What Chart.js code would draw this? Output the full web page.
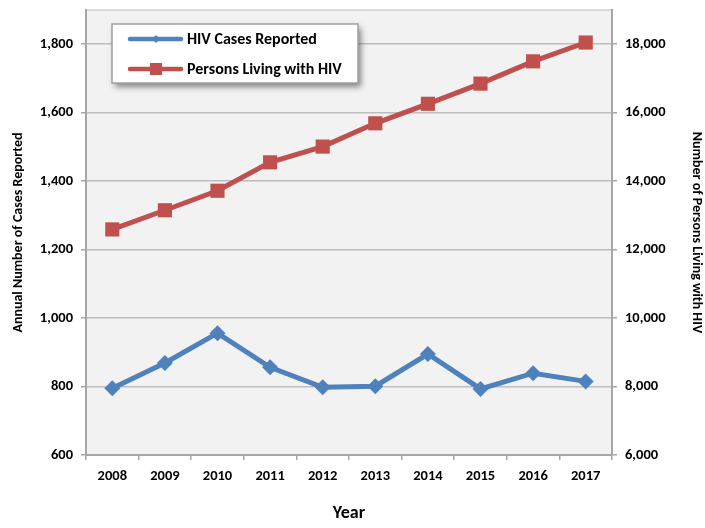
<!DOCTYPE html>
<html>
<head>
<meta charset="utf-8">
<script src="https://cdn.jsdelivr.net/npm/chart.js@4/dist/chart.umd.min.js"></script>
<style>
  html, body { margin: 0; padding: 0; background: #fff; }
  #wrap { width: 705px; height: 528px; }
</style>
</head>
<body>
<div id="wrap"><canvas id="hivChart"></canvas></div>
<script>
// Data
const years = ["2008", "2009", "2010", "2011", "2012", "2013", "2014", "2015", "2016", "2017"];
const casesReported = [795, 869, 956, 856, 798, 801, 895, 793, 839, 815];
const personsLiving = [12590, 13150, 13720, 14550, 15010, 15690, 16260, 16850, 17500, 18050];
const leftTicks = [600, 800, 1000, 1200, 1400, 1600, 1800];
const rightTicks = [6000, 8000, 10000, 12000, 14000, 16000, 18000];

const FONT = "Calibri, Carlito, Lato, 'Open Sans', sans-serif";
const BLUE = "#4f81bd";
const RED = "#c0504d";
const AXIS_GRAY = "#a6a6a6";

/**
 * Grey plot background and the light top border of the plot area.
 */
const plotFrame = {
  id: "plotFrame",
  beforeDraw(chart) {
    const { ctx, chartArea: a } = chart;
    ctx.save();
    ctx.fillStyle = "#f2f2f2";
    ctx.fillRect(a.left, a.top, a.width, a.height);
    ctx.strokeStyle = "#d0d0d0";
    ctx.lineWidth = 1.5;
    ctx.beginPath();
    ctx.moveTo(a.left, a.top);
    ctx.lineTo(a.right, a.top);
    ctx.stroke();
    ctx.restore();
  },
};

/**
 * Boxed legend with a drop shadow, drawn inside the plot area like the Excel original.
 */
const boxedLegend = {
  id: "boxedLegend",
  afterDraw(chart) {
    const { ctx } = chart;
    const box = { x: 112, y: 24, w: 246, h: 59 };
    ctx.save();
    ctx.shadowColor = "rgba(0,0,0,0.45)";
    ctx.shadowBlur = 6;
    ctx.shadowOffsetX = 3;
    ctx.shadowOffsetY = 4;
    ctx.fillStyle = "#ffffff";
    ctx.fillRect(box.x, box.y, box.w, box.h);
    ctx.restore();

    ctx.save();
    ctx.strokeStyle = "#a0a0a0";
    ctx.lineWidth = 1.5;
    ctx.strokeRect(box.x, box.y, box.w, box.h);

    const rows = [
      { ds: chart.data.datasets[0], y: 39, radius: 4 },
      { ds: chart.data.datasets[1], y: 69, radius: 8.5 },
    ];
    rows.forEach(({ ds, y, radius }) => {
      ctx.strokeStyle = ds.borderColor;
      ctx.lineWidth = 4.5;
      ctx.lineCap = "round";
      ctx.beginPath();
      ctx.moveTo(130, y);
      ctx.lineTo(181, y);
      ctx.stroke();
      ctx.fillStyle = ds.pointBackgroundColor;
      ctx.strokeStyle = ds.pointBorderColor;
      Chart.helpers.drawPoint(ctx, { pointStyle: ds.pointStyle, radius: radius, rotation: 0, borderWidth: 0 }, 156, y);
      ctx.fillStyle = "#000";
      ctx.font = "bold 16px " + FONT;
      ctx.textBaseline = "middle";
      ctx.fillText(ds.label, 187, y + 1);
    });
    ctx.restore();
  },
};

const fmt = (v) => Number(v).toLocaleString("en-US");

// keep the plot area where the reference has it: no extra room for edge labels
const noEdgePadding = (s) => {
  s.paddingTop = 0;
  s.paddingBottom = 0;
  s.paddingLeft = 0;
  s.paddingRight = 0;
};

const tickFont = { family: FONT, size: 14.5, weight: "bold" };
const axisTitleFont = { family: FONT, size: 14, weight: "bold" };

new Chart(document.getElementById("hivChart"), {
  type: "line",
  data: {
    labels: years,
    datasets: [
      {
        label: "HIV Cases Reported",
        data: casesReported,
        yAxisID: "y",
        borderColor: BLUE,
        borderWidth: 5,
        pointStyle: "rectRot",
        pointRadius: 8,
        pointHoverRadius: 8,
        pointBackgroundColor: BLUE,
        pointBorderColor: BLUE,
        pointBorderWidth: 0,
        tension: 0,
      },
      {
        label: "Persons Living with HIV",
        data: personsLiving,
        yAxisID: "y1",
        borderColor: RED,
        borderWidth: 5,
        pointStyle: "rect",
        pointRadius: 10,
        pointHoverRadius: 10,
        pointBackgroundColor: RED,
        pointBorderColor: RED,
        pointBorderWidth: 0,
        tension: 0,
      },
    ],
  },
  options: {
    responsive: true,
    maintainAspectRatio: false,
    animation: false,
    layout: { padding: { top: 4, left: 0, right: 0, bottom: 0 } },
    plugins: {
      legend: { display: false },
      tooltip: { enabled: false },
    },
    scales: {
      x: {
        offset: true,
        afterFit: (s) => { s.height = 73; noEdgePadding(s); },
        grid: { offset: true, drawOnChartArea: false, tickLength: 5, color: AXIS_GRAY, lineWidth: 1.5 },
        border: { color: AXIS_GRAY, width: 2 },
        ticks: { color: "#000", padding: 8, font: tickFont, maxRotation: 0 },
        title: {
          display: true,
          text: "Year",
          color: "#000",
          font: { family: FONT, size: 18, weight: "bold" },
          padding: { top: 0, bottom: 4 },
        },
      },
      y: {
        position: "left",
        min: 600,
        max: 1900,
        afterFit: (s) => { s.width = 86; noEdgePadding(s); },
        afterBuildTicks: (s) => { s.ticks = leftTicks.map((v) => ({ value: v })); },
        grid: { color: "#bdbdbd", lineWidth: 1.5, tickLength: 5, tickColor: AXIS_GRAY },
        border: { color: AXIS_GRAY, width: 2 },
        ticks: { color: "#000", padding: 8, font: tickFont, callback: fmt },
        title: {
          display: true,
          text: "Annual Number of Cases Reported",
          color: "#000",
          font: axisTitleFont,
          padding: { top: 10, bottom: 0 },
        },
      },
      y1: {
        position: "right",
        min: 6000,
        max: 19000,
        afterFit: (s) => { s.width = 93; noEdgePadding(s); },
        afterBuildTicks: (s) => { s.ticks = rightTicks.map((v) => ({ value: v })); },
        grid: { drawOnChartArea: false, tickLength: 5, color: AXIS_GRAY, lineWidth: 1.5 },
        border: { color: AXIS_GRAY, width: 2 },
        ticks: { color: "#000", padding: 8, font: tickFont, callback: fmt },
        title: {
          display: true,
          text: "Number of Persons Living with HIV",
          color: "#000",
          font: axisTitleFont,
          padding: { top: 0, bottom: 0 },
        },
      },
    },
  },
  plugins: [plotFrame, boxedLegend],
});
</script>
</body>
</html>
